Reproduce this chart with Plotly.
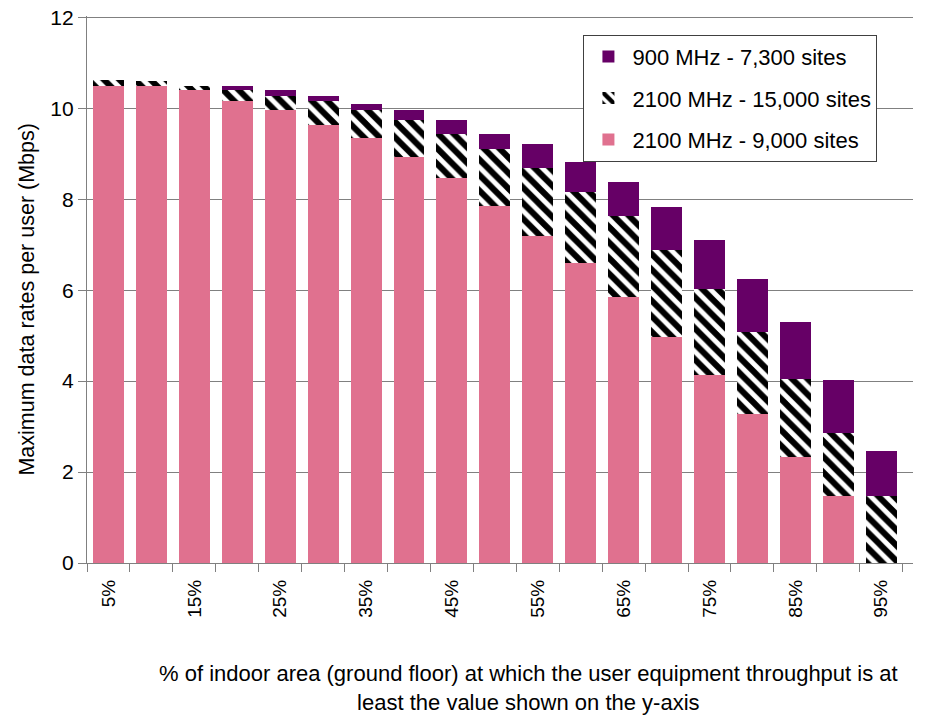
import plotly.graph_objects as go

# Categories (% of indoor area) and tick labels (every other one shown)
categories = ["5%", "10%", "15%", "20%", "25%", "30%", "35%", "40%", "45%", "50%",
              "55%", "60%", "65%", "70%", "75%", "80%", "85%", "90%", "95%"]
tick_labels = ["5%", "", "15%", "", "25%", "", "35%", "", "45%", "",
               "55%", "", "65%", "", "75%", "", "85%", "", "95%"]

# Segment heights (Mbps), stacked bottom to top
sites_2100_9000 = [10.49, 10.49, 10.40, 10.16, 9.96, 9.64, 9.34, 8.92, 8.47, 7.85,
                   7.19, 6.59, 5.84, 4.96, 4.13, 3.28, 2.34, 1.48, 0.0]
sites_2100_15000 = [0.13, 0.11, 0.09, 0.24, 0.31, 0.52, 0.62, 0.82, 0.97, 1.26,
                    1.50, 1.57, 1.79, 1.93, 1.89, 1.80, 1.70, 1.38, 1.47]
sites_900_7300 = [0.0, 0.0, 0.0, 0.10, 0.13, 0.11, 0.13, 0.22, 0.31, 0.33,
                  0.52, 0.65, 0.74, 0.95, 1.09, 1.16, 1.26, 1.17, 0.99]

series_names = ["2100 MHz - 9,000 sites", "2100 MHz - 15,000 sites", "900 MHz - 7,300 sites"]
y_title = "Maximum data rates per user (Mbps)"
x_title = ("% of indoor area (ground floor) at which the user equipment throughput is at"
           "<br>least the value shown on the y-axis")

PINK = "#E0718F"
PURPLE = "#660066"
GRID = "#808080"
FONT = "Liberation Sans, Arial, sans-serif"

fig = go.Figure()
fig.add_trace(go.Bar(
    x=categories, y=sites_2100_9000, name=series_names[0], legendgroup="a", legendrank=3,
    marker=dict(color=PINK, line=dict(width=0)),
))
fig.add_trace(go.Bar(
    x=categories, y=sites_2100_15000, name=series_names[1], legendgroup="b", legendrank=2,
    marker=dict(color="white", line=dict(width=0),
                pattern=dict(shape="\\", fgcolor="black", bgcolor="white",
                             size=11, solidity=0.55, fgopacity=1)),
))
fig.add_trace(go.Bar(
    x=categories, y=sites_900_7300, name=series_names[2], legendgroup="c", legendrank=1,
    marker=dict(color=PURPLE, line=dict(width=0)),
))

fig.update_layout(
    barmode="stack",
    bargap=0.28,
    width=925, height=714,
    margin=dict(l=79, r=20, t=8, b=159, autoexpand=False),
    paper_bgcolor="white",
    plot_bgcolor="white",
    font=dict(family=FONT, color="black"),
    showlegend=True,
    legend=dict(
        x=0.601, y=0.966, xanchor="left", yanchor="top",
        traceorder="grouped", tracegroupgap=10, itemwidth=38,
        bgcolor="white", bordercolor="#404040", borderwidth=1,
        font=dict(size=22, family=FONT, color="black"),
    ),
    xaxis=dict(
        type="category",
        automargin=False,
        range=[-0.5, 18.74],
        tickmode="array", tickvals=categories, ticktext=tick_labels,
        tickson="boundaries", ticks="outside", ticklen=8, tickcolor=GRID, tickwidth=1.3,
        tickangle=-90, ticklabelstandoff=8,
        tickfont=dict(size=19, family=FONT, color="black"),
        showline=True, linecolor=GRID, linewidth=1.3,
        showgrid=False,
    ),
    yaxis=dict(
        automargin=False,
        range=[0, 12.03], dtick=2, tick0=0,
        ticks="outside", ticklen=8, tickcolor=GRID, tickwidth=1.3,
        ticklabeloverflow="allow",
        tickfont=dict(size=21, family=FONT, color="black"),
        showline=True, linecolor=GRID, linewidth=1.3,
        showgrid=True, gridcolor=GRID, gridwidth=1.3,
        zeroline=False,
    ),
    annotations=[
        dict(
            text=y_title, textangle=-90,
            xref="paper", yref="paper", x=-0.0738, y=0.4817,
            xanchor="center", yanchor="middle", showarrow=False,
            font=dict(size=21.5, family=FONT, color="black"),
        ),
        dict(
            text=x_title,
            xref="paper", yref="paper", x=0.535, y=-0.176,
            xanchor="center", yanchor="top", showarrow=False, align="center",
            font=dict(size=22, family=FONT, color="black"),
        ),
    ],
)

fig.write_html("out.html")
